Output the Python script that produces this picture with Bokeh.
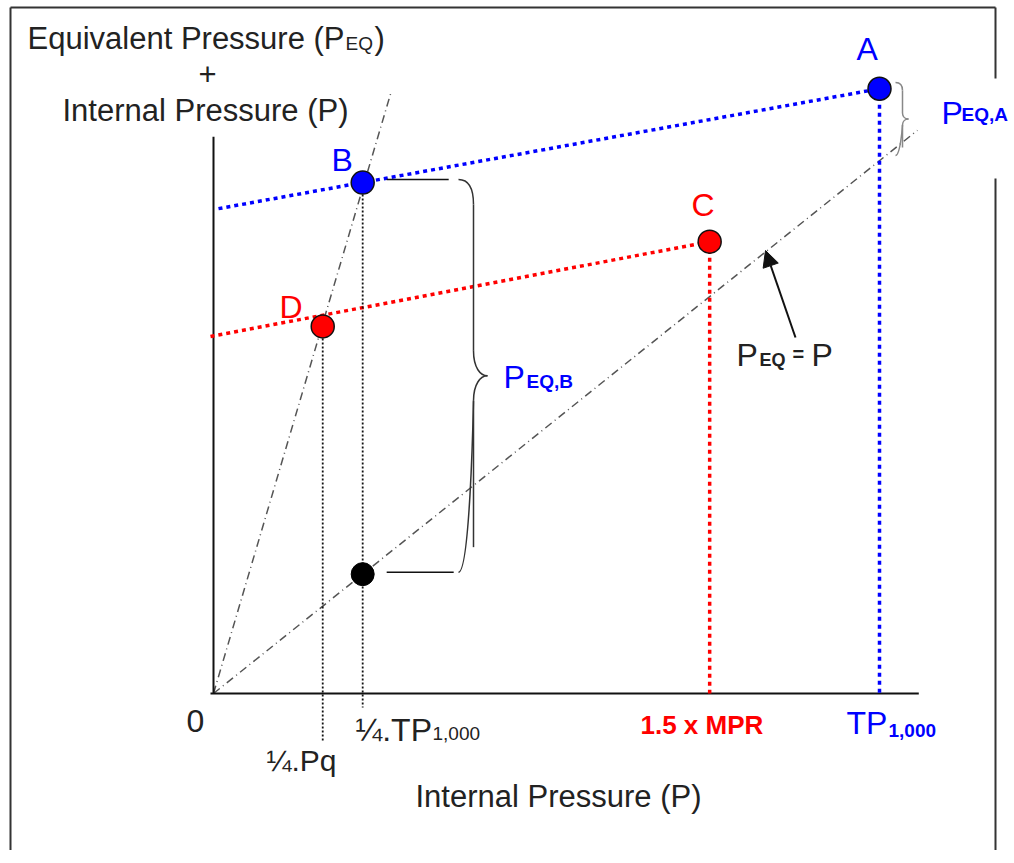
from bokeh.plotting import figure
from bokeh.models import Range1d, Arrow, NormalHead
from bokeh.core.properties import value
from bokeh.embed import file_html
from bokeh.resources import INLINE

# ---------------- data (P in units where TP1,000 = 100) ----------------
point_names = ["A", "B", "C", "D"]
point_p = [100.0, 22.4, 74.5, 16.4]          # internal pressure P
point_y = [113.5, 95.9, 84.8, 68.9]          # P_EQ + P
point_colors = ["#0000ff", "#0000ff", "#ff0000", "#ff0000"]

ref_p = [22.4]                               # black point on P_EQ = P line
ref_y = [22.4]

blue_line_p = [0.75, 100.0]
blue_line_y = [91.0, 113.5]
red_line_p = [-0.45, 74.5]
red_line_y = [67.0, 84.8]
diag_p = [0.0, 105.7]                        # P_EQ = P
diag_y = [0.0, 105.7]
steep_p = [0.0, 26.6]
steep_y = [0.0, 112.6]

x_axis_p = [-0.45, 105.9]
y_axis_y = [0.0, 104.5]

tick_labels = ["0", "¼.Pq", "¼.TP", "1.5 x MPR", "TP"]

# ---------------- pixel <-> data helpers ----------------
OX, OY = 213.0, 693.0
SX, SY = 6.66, 5.328
W, H = 1014, 850
TEXT_SHIFT = 11  # compensate baseline placement of text glyphs


def X(px):
    return (px - OX) / SX


def Y(py):
    return (OY - py) / SY


FONT = "Liberation Sans"

p = figure(width=W, height=H,
           x_range=Range1d(X(0), X(W)), y_range=Range1d(Y(H), Y(0)),
           output_backend="svg", toolbar_location=None,
           x_axis_type=None, y_axis_type=None, min_border=0)
p.grid.visible = False
p.outline_line_color = None
p.background_fill_color = "white"

# outer frame
fx0, fx1, fy0, fy1 = X(10), X(995), Y(7), Y(H)
p.segment(x0=[fx0, fx0, fx1, fx1], y0=[fy0, fy0, fy0, Y(178)],
          x1=[fx0, fx1, fx1, fx1], y1=[fy1, fy0, Y(78), fy1],
          line_color="#333333", line_width=2)

# guide lines (dash-dot)
p.line(diag_p, diag_y, line_color="#555555", line_width=1.5, line_dash="8 4 1 4")
p.line(steep_p, steep_y, line_color="#555555", line_width=1.5, line_dash="8 4 1 4")

# axes
p.line(x_axis_p, [0, 0], line_color="#111111", line_width=2)
p.line([0, 0], y_axis_y, line_color="#111111", line_width=2)

# coloured dotted lines
p.line(blue_line_p, blue_line_y, line_color="#0000ff", line_width=3.5, line_dash="4 4")
p.line(red_line_p, red_line_y, line_color="#ff0000", line_width=3.5, line_dash="4 4")

# vertical drop lines
p.line([point_p[0], point_p[0]], [point_y[0], 0], line_color="#0000ff", line_width=3.5, line_dash="4 4")
p.line([point_p[2], point_p[2]], [point_y[2], 0], line_color="#ff0000", line_width=3.5, line_dash="4 4")
p.line([point_p[3], point_p[3]], [point_y[3], Y(740)], line_color="#111111", line_width=1.8, line_dash="2 2")
p.line([point_p[1], point_p[1]], [point_y[1], Y(707)], line_color="#111111", line_width=1.8, line_dash="2 2")

# brace for P_EQ,B
yt, yb = point_y[1] + (182 - 179) / SY, ref_y[0] + (573 - 571) / SY
xb = point_p[1]
p.segment(x0=[xb + 24 / SX, xb + 24 / SX], y0=[yt, yb],
          x1=[xb + 86 / SX, xb + 91 / SX], y1=[yt, yb],
          line_color="#111111", line_width=1.5)
bx0, bx1, bx2 = X(458), X(473), X(487)
ym = (yt + yb) / 2
p.bezier(x0=[bx0, bx1, bx2, bx1], y0=[yt, ym + 25 / SY, ym, ym - 25 / SY],
         x1=[bx1, bx2, bx1, bx0], y1=[yt - 25 / SY, ym, ym - 25 / SY, yb],
         cx0=[X(470), bx1, X(480), bx1], cy0=[yt, ym + 8 / SY, ym, ym - 22 / SY],
         cx1=[bx1, X(480), bx1, X(470)], cy1=[yt - 12 / SY, ym, ym - 8 / SY, yb],
         line_color="#333333", line_width=1.5)
p.segment(x0=[bx1, bx1], y0=[yt - 25 / SY, ym - 25 / SY], x1=[bx1, bx1], y1=[ym + 25 / SY, yb + 25 / SY],
          line_color="#333333", line_width=1.5)

# small brace for P_EQ,A
st, sb = Y(82), Y(155)
sm = (st + sb) / 2
sx0, sx1, sx2 = X(895), X(902), X(908)
p.bezier(x0=[sx0, sx1, sx2, sx1], y0=[st, sm + 6 / SY, sm, sm - 6 / SY],
         x1=[sx1, sx2, sx1, sx0], y1=[st - 8 / SY, sm, sm - 6 / SY, sb],
         cx0=[X(900), sx1, X(905), sx1], cy0=[st, sm + 2 / SY, sm, sm - 6 / SY],
         cx1=[sx1, X(905), sx1, X(900)], cy1=[st - 3 / SY, sm, sm - 2 / SY, sb],
         line_color="#888888", line_width=1.5)
p.segment(x0=[sx1, sx1], y0=[st - 8 / SY, sm - 6 / SY], x1=[sx1, sx1], y1=[sm + 6 / SY, sb + 8 / SY],
          line_color="#888888", line_width=1.5)

# arrow to P_EQ = P line
p.add_layout(Arrow(x_start=X(795), y_start=Y(337), x_end=X(765), y_end=Y(250),
                   line_width=2, line_color="#111111",
                   end=NormalHead(size=16, fill_color="#111111", line_color="#111111")))

# points
p.scatter(point_p, point_y, size=23, fill_color=point_colors, line_color="#111111", line_width=1.5)
p.scatter(ref_p, ref_y, size=23, fill_color="#000000", line_color="#000000", line_width=1)


def txt(s, px, py, size, color="#222222", style="normal", align="left"):
    p.text(x=[X(px)], y=[Y(py - TEXT_SHIFT)], text=[s], text_font=value(FONT),
           text_font_size=f"{size}px", text_color=color, text_font_style=style,
           text_align=align, text_baseline="alphabetic")


# y-axis title
txt("Equivalent Pressure (P", 27, 49, 31)
txt("EQ", 345, 54, 19)
txt(")", 374, 49, 31)
txt("+", 207, 84, 31, align="center")
txt("Internal Pressure (P)", 62, 121, 31)

# x-axis title
txt("Internal Pressure (P)", 415, 807, 31)

# point letters
for name, px_, py_, col in zip(point_names, [856, 331, 691, 279], [59, 170, 215, 317], point_colors):
    txt(name, px_, py_, 32, col)

# x labels
txt(tick_labels[0], 186, 731, 32)
txt(tick_labels[1], 266, 771, 30)
txt(tick_labels[2], 355, 740, 32)
txt("1,000", 432, 744, 19)
txt(tick_labels[3], 640, 735, 26, "#ff0000", "bold")
txt(tick_labels[4], 846, 733, 32, "#0000ff")
txt("1,000", 888, 741, 19, "#0000ff", "bold")

# P_EQ labels
txt("P", 941, 123, 32, "#0000ff")
txt("EQ,A", 961, 125, 19, "#0000ff", "bold")
txt("P", 503, 387, 32, "#0000ff")
txt("EQ,B", 526, 392, 19, "#0000ff", "bold")
txt("P", 736, 365, 32)
txt("EQ", 759, 370, 18, style="bold")
txt("=", 792, 364, 20, style="bold")
txt("P", 811, 365, 32)

open("out.html", "w").write(file_html(p, INLINE))
